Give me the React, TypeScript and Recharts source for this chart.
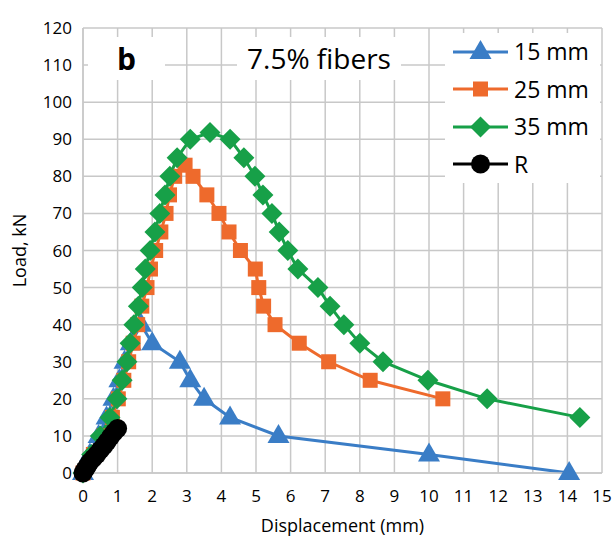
import React from "react";
import { LineChart, Line, XAxis, YAxis, CartesianGrid, Legend } from "recharts";

const xTicks = [0, 1, 2, 3, 4, 5, 6, 7, 8, 9, 10, 11, 12, 13, 14, 15];
const yTicks = [0, 10, 20, 30, 40, 50, 60, 70, 80, 90, 100, 110, 120];

// 15 mm
const x15 = [0, 0.2, 0.45, 0.68, 0.88, 1.05, 1.2, 1.38, 1.68, 2.0, 2.8, 3.1, 3.5, 4.25, 5.65, 10.0, 14.05];
const y15 = [0, 5, 10, 15, 20, 25, 30, 35, 40, 35, 30, 25, 20, 15, 10, 5, 0];

// 25 mm
const x25 = [0, 0.3, 0.6, 0.85, 1.02, 1.18, 1.32, 1.45, 1.58, 1.7, 1.85, 1.95, 2.1, 2.25, 2.4, 2.5, 2.65, 2.95, 3.18, 3.58, 3.93, 4.22, 4.55, 4.98, 5.08, 5.22, 5.55, 6.25, 7.1, 8.3, 10.4];
const y25 = [0, 5, 10, 15, 20, 25, 30, 35, 40, 45, 50, 55, 60, 65, 70, 75, 80, 83, 80, 75, 70, 65, 60, 55, 50, 45, 40, 35, 30, 25, 20];

// 35 mm
const x35 = [0, 0.25, 0.5, 0.78, 0.98, 1.13, 1.27, 1.36, 1.47, 1.6, 1.71, 1.8, 1.94, 2.08, 2.22, 2.37, 2.51, 2.72, 3.1, 3.67, 4.25, 4.65, 4.97, 5.2, 5.46, 5.67, 5.92, 6.21, 6.79, 7.14, 7.54, 8.0, 8.67, 9.97, 11.68, 14.36];
const y35 = [0, 5, 10, 15, 20, 25, 30, 35, 40, 45, 50, 55, 60, 65, 70, 75, 80, 85, 90, 91.8, 90, 85, 80, 75, 70, 65, 60, 55, 50, 45, 40, 35, 30, 25, 20, 15];

// R
const xR = [0, 0.05, 0.1, 0.15, 0.2, 0.3, 0.4, 0.5, 0.6, 0.7, 0.8, 0.9, 1.0];
const yR = [0, 0.8, 1.5, 2.2, 3, 4, 5, 6.2, 7.3, 8.5, 9.8, 11, 12];

const zip = (xs: number[], ys: number[]) => xs.map((x, i) => ({ x, y: ys[i] }));

const BLUE = "#3a7dc6";
const ORANGE = "#ee6a2c";
const GREEN = "#17a048";
const BLACK = "#000000";
const FONT = "'Open Sans', sans-serif";

type Shape = "triangle" | "square" | "diamond" | "circle";

function marker(shape: Shape, color: string, cx: number, cy: number, key?: any) {
  if (shape === "triangle")
    return <path key={key} d={`M${cx},${cy - 12}L${cx + 11},${cy + 7}L${cx - 11},${cy + 7}Z`} fill={color} />;
  if (shape === "square")
    return <rect key={key} x={cx - 7.5} y={cy - 7.5} width={15} height={15} fill={color} />;
  if (shape === "diamond")
    return <path key={key} d={`M${cx},${cy - 10.5}L${cx + 10.5},${cy}L${cx},${cy + 10.5}L${cx - 10.5},${cy}Z`} fill={color} />;
  return <circle key={key} cx={cx} cy={cy} r={9.5} fill={color} />;
}

const series = [
  { name: "15 mm", color: BLUE, shape: "triangle" as Shape, data: zip(x15, y15) },
  { name: "25 mm", color: ORANGE, shape: "square" as Shape, data: zip(x25, y25) },
  { name: "35 mm", color: GREEN, shape: "diamond" as Shape, data: zip(x35, y35) },
  { name: "R", color: BLACK, shape: "circle" as Shape, data: zip(xR, yR) },
];

function LegendBox() {
  return (
    <div style={{ background: "#fff", width: 155, height: 150, fontFamily: FONT }}>
      {series.map((s) => (
        <div key={s.name} style={{ height: 37.5, display: "flex", alignItems: "center" }}>
          <svg width={69} height={30} style={{ display: "block" }}>
            <line x1={8} y1={15} x2={63} y2={15} stroke={s.color} strokeWidth={3} />
            {marker(s.shape, s.color, 35.5, 15)}
          </svg>
          <span style={{ fontSize: 23, color: "#000", lineHeight: 1 }}>{s.name}</span>
        </div>
      ))}
    </div>
  );
}

export default function App() {
  return (
    <div style={{ position: "absolute", left: 0, top: 0, width: 612, height: 539, background: "#fff" }}>
      <LineChart width={612} height={539} margin={{ top: 28, right: 10, left: 0, bottom: 0 }}>
        <CartesianGrid stroke="#c8c8c8" strokeWidth={1.5} />
        <XAxis
          type="number"
          dataKey="x"
          domain={[0, 15]}
          ticks={xTicks}
          allowDuplicatedCategory={false}
          height={66}
          tickLine={false}
          tickMargin={11}
          stroke="#c8c8c8"
          strokeWidth={1.5}
          tick={{ fill: "#000", fontSize: 17, fontFamily: FONT }}
          label={{ value: "Displacement (mm)", position: "insideBottom", offset: 7, fill: "#000", fontSize: 18, fontFamily: FONT }}
        />
        <YAxis
          type="number"
          domain={[0, 120]}
          ticks={yTicks}
          width={83}
          tickLine={false}
          tickMargin={5}
          stroke="#c8c8c8"
          strokeWidth={1.5}
          tick={{ fill: "#000", fontSize: 17, fontFamily: FONT }}
          label={{ value: "Load, kN", angle: -90, position: "insideLeft", offset: 20, fill: "#000", fontSize: 18, fontFamily: FONT, style: { textAnchor: "middle" } }}
        />
        <Legend
          layout="horizontal"
          verticalAlign="middle"
          content={() => <LegendBox />}
          wrapperStyle={{ left: 445, top: 33, width: 155, height: 150 }}
        />
        {series.map((s) => (
          <Line
            key={s.name}
            name={s.name}
            data={s.data}
            dataKey="y"
            type="linear"
            stroke={s.color}
            strokeWidth={3}
            isAnimationActive={false}
            dot={(p: any) => marker(s.shape, s.color, p.cx, p.cy, `${s.name}-${p.index}`)}
            activeDot={false}
          />
        ))}
      </LineChart>
      <div
        style={{
          position: "absolute", left: 88, top: 37, width: 77, height: 43, background: "#fff",
          fontFamily: FONT, fontWeight: 700, fontSize: 30, lineHeight: "43px", textAlign: "center", color: "#000",
        }}
      >
        b
      </div>
      <div
        style={{
          position: "absolute", left: 237, top: 37, width: 164, height: 43, background: "#fff",
          fontFamily: FONT, fontSize: 28, lineHeight: "43px", textAlign: "center", color: "#000",
        }}
      >
        7.5% fibers
      </div>
    </div>
  );
}
